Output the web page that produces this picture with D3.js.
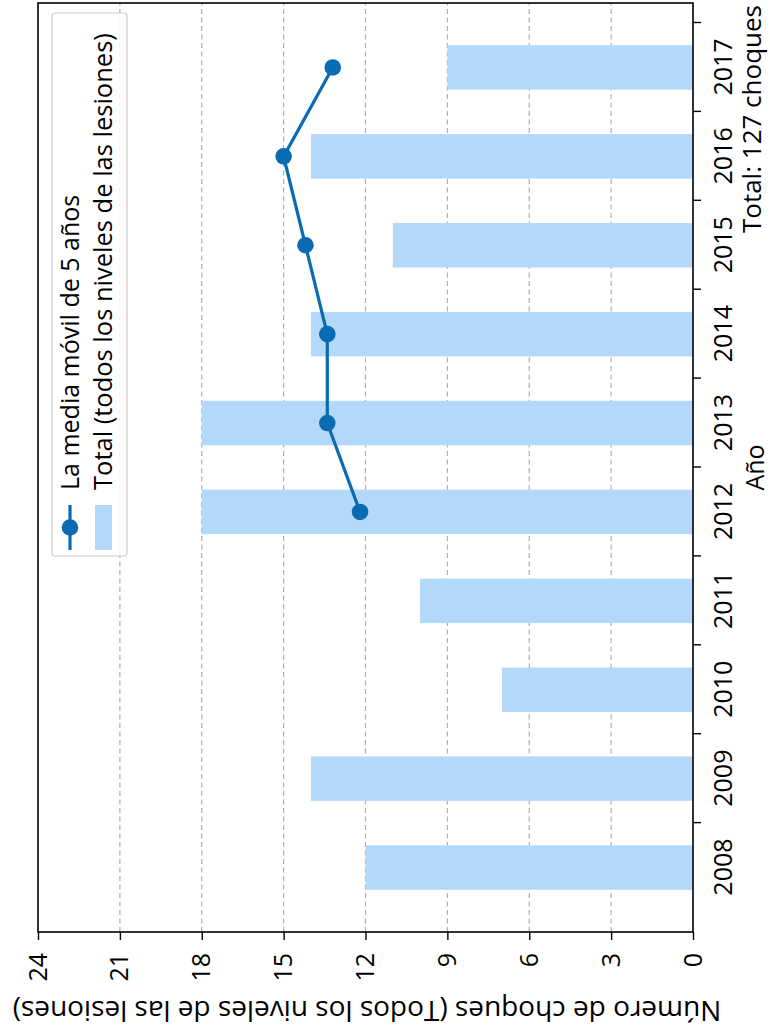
<!DOCTYPE html>
<html>
<head>
<meta charset="utf-8">
<script src="https://cdn.jsdelivr.net/npm/d3@7"></script>
<style>
  html, body { margin: 0; padding: 0; background: #fff; }
  svg { display: block; }
  text { font-family: "Open Sans", sans-serif; }
</style>
</head>
<body>
<svg id="chart" width="770" height="1036"></svg>
<script>
// ---- data ----
const years = ["2008", "2009", "2010", "2011", "2012", "2013", "2014", "2015", "2016", "2017"];
const totals = [12, 14, 7, 10, 18, 18, 14, 11, 14, 9];
const avgYears = ["2012", "2013", "2014", "2015", "2016", "2017"];
const avgValues = [12.2, 13.4, 13.4, 14.2, 15.0, 13.2];
const valueTicks = [0, 3, 6, 9, 12, 15, 18, 21, 24];
const labels = {
  line: "La media móvil de 5 años",
  bars: "Total (todos los niveles de las lesiones)",
  xTitle: "Año",
  yTitle: "Número de choques (Todos los niveles de las lesiones)",
  total: "Total: 127 choques"
};

// ---- layout (chart drawn unrotated, then rotated -90deg) ----
const W = 1036, H = 770;
const plot = { left: 104, right: 1033, top: 38, bottom: 693 };
const barColor = "#b3d8fa";
const lineColor = "#0a6bb3";
const fs = 25;
const font = "Open Sans";

const svg = d3.select("#chart");
svg.append("rect").attr("width", 770).attr("height", 1036).attr("fill", "#fff");
const g = svg.append("g").attr("transform", `translate(0,${W}) rotate(-90)`);

const idx = d => years.indexOf(d);
const x = d3.scaleLinear().domain([-0.725, years.length - 1 + 0.725]).range([plot.left, plot.right]);
const y = d3.scaleLinear().domain([0, 24]).range([plot.bottom, plot.top]);

// grid
g.append("g").selectAll("line").data(valueTicks.filter(v => v > 0 && v < 24)).join("line")
  .attr("x1", plot.left).attr("x2", plot.right)
  .attr("y1", d => y(d)).attr("y2", d => y(d))
  .attr("stroke", "#b0b0b0").attr("stroke-width", 1.2).attr("stroke-dasharray", "5,3.5");

// bars
const bw = 0.5;
g.append("g").selectAll("rect").data(years).join("rect")
  .attr("x", d => x(idx(d) - bw / 2))
  .attr("width", d => x(idx(d) + bw / 2) - x(idx(d) - bw / 2))
  .attr("y", (d, i) => y(totals[i]))
  .attr("height", (d, i) => y(0) - y(totals[i]))
  .attr("fill", barColor);

// moving average line
const line = d3.line().x(d => x(idx(d[0]))).y(d => y(d[1]));
const pts = avgYears.map((d, i) => [d, avgValues[i]]);
g.append("path").datum(pts).attr("d", line)
  .attr("fill", "none").attr("stroke", lineColor).attr("stroke-width", 3.2);
g.append("g").selectAll("circle").data(pts).join("circle")
  .attr("cx", d => x(idx(d[0]))).attr("cy", d => y(d[1])).attr("r", 8.3)
  .attr("fill", lineColor);

// frame
g.append("rect").attr("x", plot.left).attr("y", plot.top)
  .attr("width", plot.right - plot.left).attr("height", plot.bottom - plot.top)
  .attr("fill", "none").attr("stroke", "#000").attr("stroke-width", 1.6);

// x axis: tick marks between categories, labels at category centres
const tickPos = years.map((d, i) => i + 0.5);
const xAxisMarks = g.append("g").attr("transform", `translate(0,${plot.bottom})`)
  .call(d3.axisBottom(x).tickValues(tickPos).tickFormat(() => "").tickSizeInner(8).tickSizeOuter(0));
xAxisMarks.select(".domain").remove();
xAxisMarks.selectAll("line").attr("stroke", "#000").attr("stroke-width", 1.4);

const xAxisLabels = g.append("g").attr("transform", `translate(0,${plot.bottom})`)
  .call(d3.axisBottom(x).tickValues(years.map((d, i) => i)).tickFormat(i => years[i]).tickSize(0).tickPadding(21));
xAxisLabels.select(".domain").remove();
xAxisLabels.selectAll("text").attr("font-size", fs).attr("fill", "#000").attr("font-family", font);

// y axis
const yAxis = g.append("g").attr("transform", `translate(${plot.left},0)`)
  .call(d3.axisLeft(y).tickValues(valueTicks).tickSizeInner(8).tickSizeOuter(0).tickPadding(13));
yAxis.select(".domain").remove();
yAxis.selectAll("line").attr("stroke", "#000").attr("stroke-width", 1.4);
yAxis.selectAll("text").attr("font-size", fs).attr("fill", "#000").attr("font-family", font);

// titles
g.append("text").attr("x", (plot.left + plot.right) / 2).attr("y", 764)
  .attr("text-anchor", "middle").attr("font-size", fs).text(labels.xTitle);
g.append("text").attr("x", plot.right - 2).attr("y", 761)
  .attr("text-anchor", "end").attr("font-size", 26).text(labels.total);
g.append("text").attr("transform", `translate(25,367) rotate(-90)`)
  .attr("text-anchor", "middle").attr("dy", "0.35em").attr("font-size", 28).text(labels.yTitle);

// legend
const lg = g.append("g").attr("transform", "translate(480,52)");
lg.append("rect").attr("width", 543).attr("height", 75).attr("rx", 3)
  .attr("fill", "#fff").attr("fill-opacity", 0.85).attr("stroke", "#cccccc").attr("stroke-width", 1.2);
lg.append("line").attr("x1", 6).attr("x2", 51).attr("y1", 18).attr("y2", 18)
  .attr("stroke", lineColor).attr("stroke-width", 3.2);
lg.append("circle").attr("cx", 28.5).attr("cy", 18).attr("r", 8.3).attr("fill", lineColor);
lg.append("rect").attr("x", 6).attr("y", 43).attr("width", 45).attr("height", 17).attr("fill", barColor);
lg.append("text").attr("x", 66).attr("y", 18).attr("dy", "0.35em").attr("font-size", fs).text(labels.line);
lg.append("text").attr("x", 66).attr("y", 51).attr("dy", "0.35em").attr("font-size", 25.5).text(labels.bars);
</script>
</body>
</html>
